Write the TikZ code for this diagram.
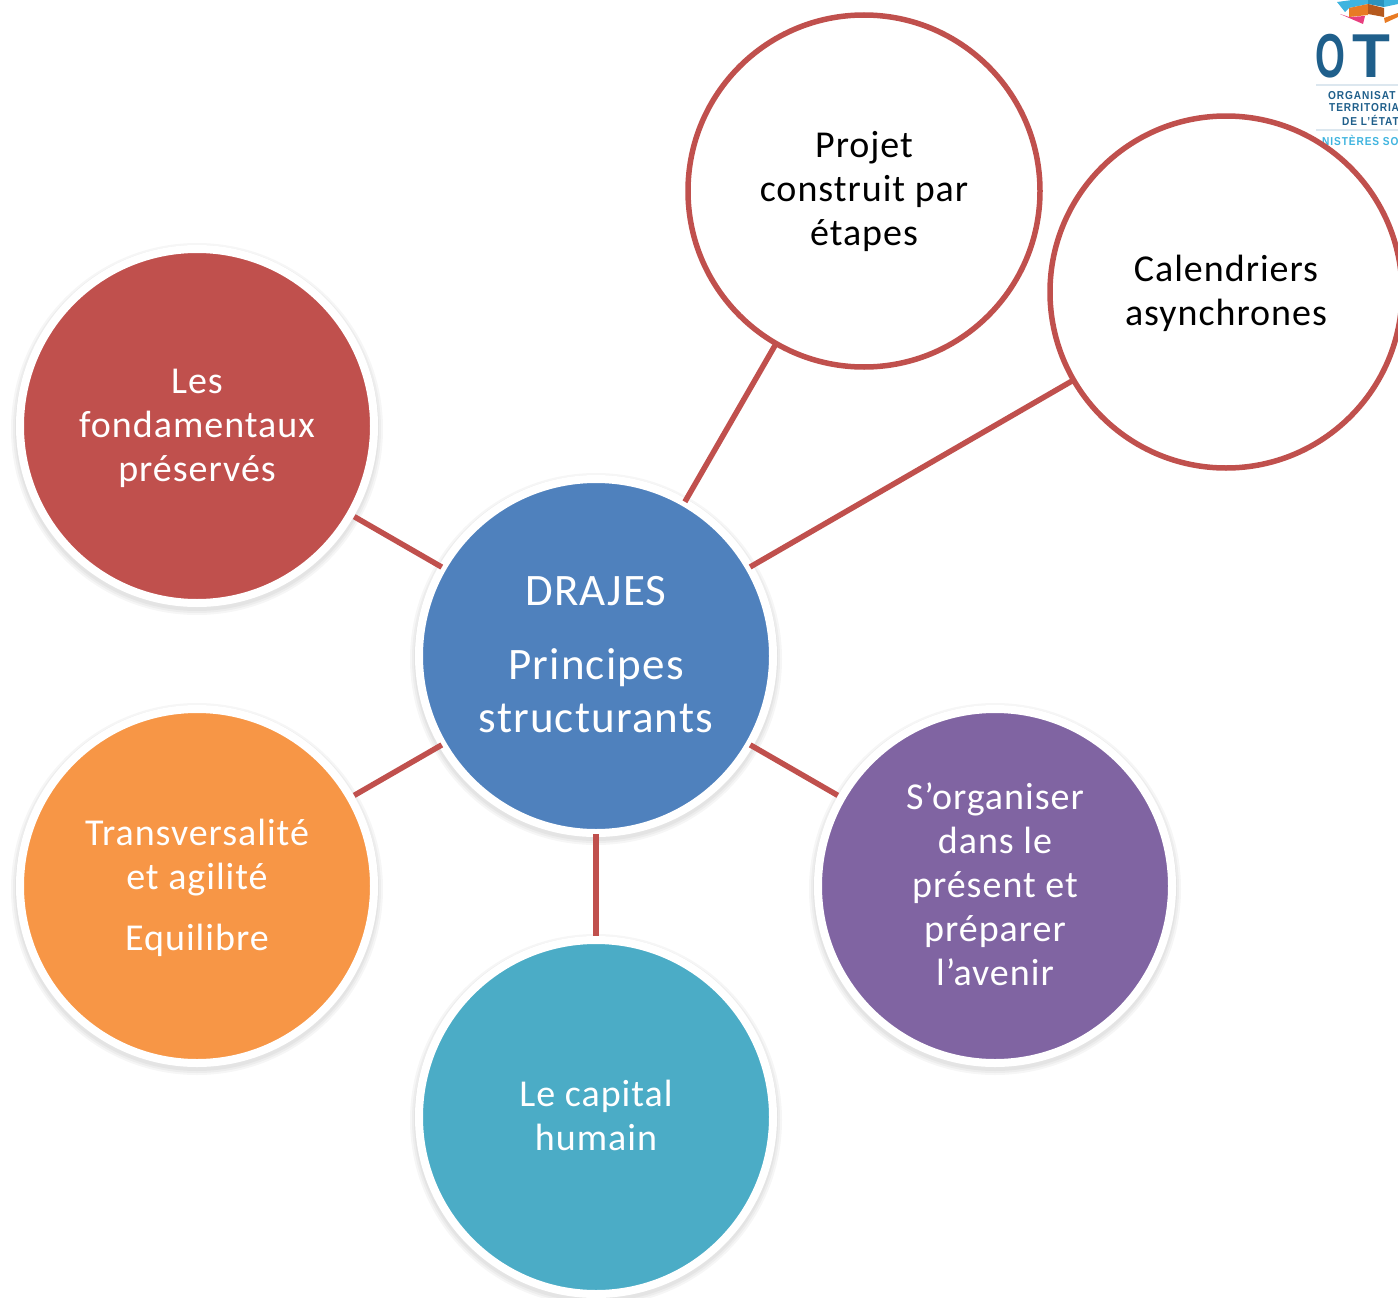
\documentclass[tikz,border=0pt]{standalone}
\usepackage{fontspec}
\setmainfont{Carlito}
\newfontfamily\bubblefont[LetterSpace=2.6]{Carlito}
\newfontfamily\logofont{Liberation Sans}
\newfontfamily\logosmall[LetterSpace=9]{Liberation Sans}
\usetikzlibrary{backgrounds}
\definecolor{cred}{HTML}{C0504D}
\definecolor{cblue}{HTML}{4F81BD}
\definecolor{corange}{HTML}{F79646}
\definecolor{cpurple}{HTML}{8064A2}
\definecolor{cteal}{HTML}{4BACC6}
\definecolor{logoblue}{HTML}{1F5F8B}
\definecolor{logocyan}{HTML}{3FB4DF}
\definecolor{logoorange}{HTML}{E87B24}
\definecolor{logopink}{HTML}{E83E7E}
\definecolor{logobrown}{HTML}{B5591E}
\definecolor{logomid}{HTML}{2B93BE}
\definecolor{logoline}{HTML}{DCE7EF}
\newcommand{\topspace}[1]{\rule{0pt}{#1pt}}
\newcommand{\botspace}[1]{\rule[-#1pt]{0pt}{0pt}}
\tikzset{
  bubble/.style={circle,draw=white,line width=8pt,minimum size=354pt,inner sep=0pt,outer sep=1pt,
    text=white,align=center,font=\bubblefont\fontsize{38}{44}\selectfont},
  hollow/.style={circle,draw=cred,fill=white,line width=5.5pt,minimum size=352pt,inner sep=0pt,outer sep=1pt,
    text=black,align=center,font=\bubblefont\fontsize{38}{44}\selectfont},
  link/.style={draw=cred,line width=5.5pt},
  shortlink/.style={link,shorten >=3.5pt},
  logotext/.style={anchor=west,inner sep=0pt,text=logoblue,xscale=0.88,font=\logosmall\bfseries\fontsize{11.5}{12}\selectfont},
  softshade/.style={fill=black,fill opacity=0.035,draw=none}
}
\begin{document}
\begin{tikzpicture}[x=1pt,y=-1pt]
\useasboundingbox (0,0) rectangle (1398,1298);
\clip (0,0) rectangle (1398,1298);
% logo
\fill[logocyan] (1337,2) -- (1352,0) -- (1368,0) -- (1368,4) -- (1349,8) -- (1345,12) -- cycle;
\fill[logomid] (1368,0) -- (1384,0) -- (1384,7) -- (1368,4) -- cycle;
\fill[logocyan] (1384,0) -- (1398,0) -- (1398,4) -- (1384,7) -- cycle;
\fill[logopink] (1340,14) -- (1349,17) -- (1365,16) -- (1363,24) -- cycle;
\fill[logoorange] (1349,8) -- (1368,4) -- (1368,15) -- (1349,17) -- cycle;
\fill[logobrown] (1368,4) -- (1384,8) -- (1384,17) -- (1368,14) -- cycle;
\fill[logoorange] (1384,18) -- (1398,13) -- (1398,17) -- (1385,23) -- cycle;
\node[inner sep=0pt,anchor=west,text=logoblue,xscale=0.62,font=\logofont\bfseries\fontsize{62}{62}\selectfont] (logoO) at (1315,56) {O};
\node[inner sep=0pt,anchor=west,text=logoblue,xscale=1,font=\logofont\bfseries\fontsize{62}{62}\selectfont] (logoT) at (1352,56) {T};
\fill[logoline] (1316,84) rectangle (1398,86);
\node[logotext] (l1) at (1328,96) {ORGANISAT};
\node[logotext] (l2) at (1329,108) {TERRITORIA};
\node[logotext] (l3) at (1342,120) {DE L’ÉTAT};
\fill[logoline] (1316,129) rectangle (1398,131);
\node[logotext,text=logocyan] (l4) at (1322,140) {NISTÈRES SO};
% circles
\node[hollow] (projet) at (864,191) {Projet\\construit par\\étapes};
\node[hollow] (cal) at (1226,292) {\topspace{30}Calendriers\\asynchrones};
\node[bubble,fill=cblue,font=\bubblefont\fontsize{45}{53}\selectfont] (center) at (596,656) {DRAJES\\[21pt]Principes\\structurants\botspace{3}};
\node[bubble,fill=cred] (fond) at (197,426) {\topspace{30}Les\\fondamentaux\\préservés};
\node[bubble,fill=corange] (trans) at (197,886) {\topspace{30}Transversalité\\et agilité\\[17pt]Equilibre};
\node[bubble,fill=cteal] (capital) at (596,1117) {Le capital\\humain\botspace{4}};
\node[bubble,fill=cpurple] (org) at (995,886) {S’organiser\\dans le\\présent et\\préparer\\l’avenir\botspace{3}};
\begin{scope}[on background layer]
  \fill[white] (0,0) rectangle (1398,1298);
  \foreach \n in {center,fond,trans,capital,org}{
    \foreach \r in {182,184,186}{
      \fill[softshade] ([shift={(0,3)}]\n.center) circle[radius=\r];
    }
  }
\end{scope}
\draw[shortlink] (center) -- (fond);
\draw[shortlink] (center) -- (trans);
\draw[shortlink] (center) -- (capital);
\draw[shortlink] (center) -- (org);
\draw[link] (center) -- (projet);
\draw[link] (center) -- (cal);
\end{tikzpicture}
\end{document}
